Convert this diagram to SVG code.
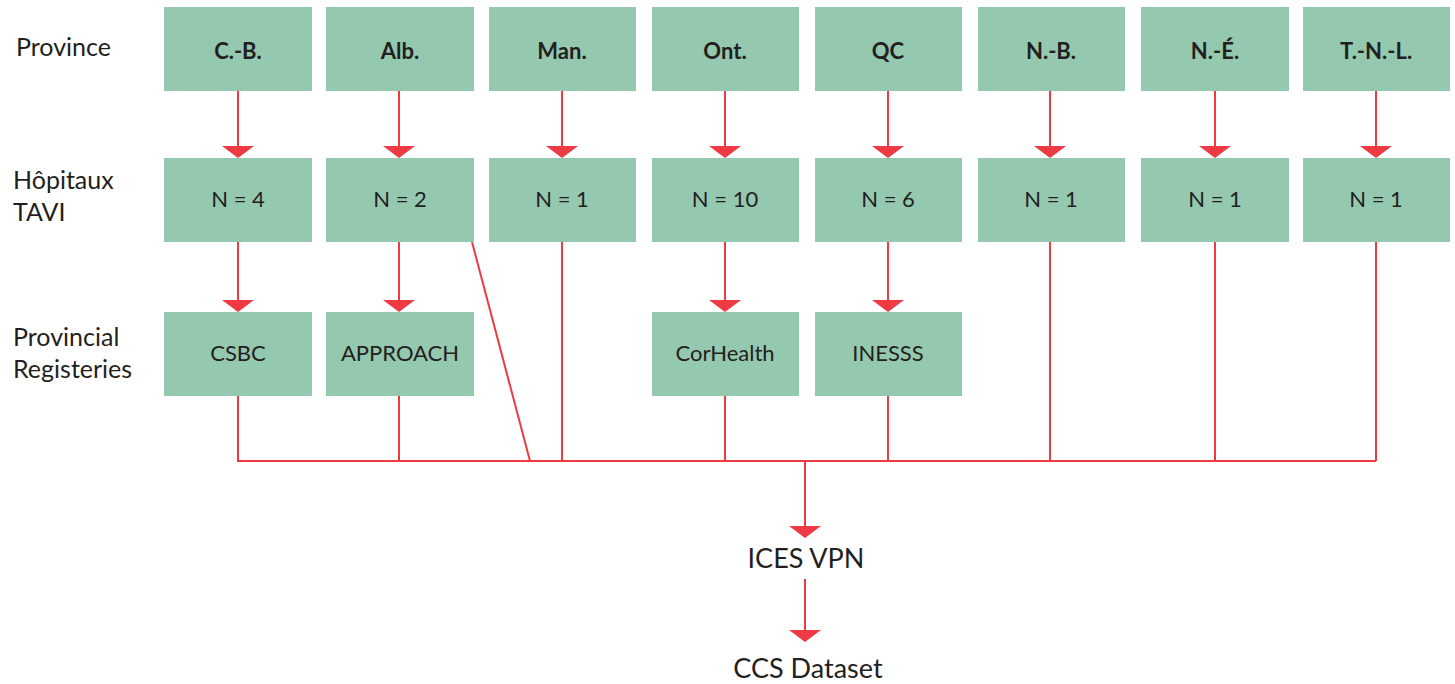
<svg xmlns="http://www.w3.org/2000/svg" width="1455" height="684" viewBox="0 0 1455 684">
<style>
.box{fill:#94C8AF}
.lbl{font-family:Lato,"Liberation Sans",sans-serif;font-size:25px;fill:#231F20}
.b{font-family:Lato,"Liberation Sans",sans-serif;font-size:22px;font-weight:bold;fill:#231F20;text-anchor:middle}
.n{font-family:Lato,"Liberation Sans",sans-serif;font-size:22px;fill:#231F20;text-anchor:middle}
.c{fill:none;stroke:#EE3A43;stroke-width:2}
.ca{fill:none;stroke:#EE3A43;stroke-width:2;marker-end:url(#ah)}
.mid{font-family:Lato,"Liberation Sans",sans-serif;font-size:27px;fill:#231F20;text-anchor:middle}
</style>
<defs>
<marker id="ah" markerUnits="userSpaceOnUse" viewBox="0 -16 12 32" refX="0" refY="0" markerWidth="12" markerHeight="32" orient="auto">
<path d="M0,-16 L12,0 L0,16 z" fill="#EE3A43"/>
</marker>
</defs>
<g id="row-labels">
<text class="lbl" x="16" y="56">Province</text>
<text class="lbl" x="13" y="189">Hôpitaux</text>
<text class="lbl" x="13" y="221">TAVI</text>
<text class="lbl" x="13" y="346">Provincial</text>
<text class="lbl" x="13" y="378">Registeries</text>
</g>
<g id="connectors">
<path class="ca" d="M238,91 V146"/>
<path class="ca" d="M399,91 V146"/>
<path class="ca" d="M562,91 V146"/>
<path class="ca" d="M725,91 V146"/>
<path class="ca" d="M888,91 V146"/>
<path class="ca" d="M1050,91 V146"/>
<path class="ca" d="M1215,91 V146"/>
<path class="ca" d="M1376,91 V146"/>
<path class="ca" d="M238,242 V300"/>
<path class="ca" d="M399,242 V300"/>
<path class="ca" d="M725,242 V300"/>
<path class="ca" d="M888,242 V300"/>
<path class="c" d="M238,396 V461 H1376"/>
<path class="c" d="M399,396 V461"/>
<path class="c" d="M472,242 L530,461"/>
<path class="c" d="M562,242 V461"/>
<path class="c" d="M725,396 V461"/>
<path class="c" d="M888,396 V461"/>
<path class="c" d="M1050,242 V461"/>
<path class="c" d="M1215,242 V461"/>
<path class="c" d="M1376,242 V461"/>
<path class="ca" d="M805,461 V526"/>
<path class="ca" d="M805,579 V630"/>
</g>
<g id="prov-cb"><rect class="box" x="164" y="7" width="148" height="84"/><text class="b" x="238" y="59">C.-B.</text></g>
<g id="prov-alb"><rect class="box" x="326" y="7" width="148" height="84"/><text class="b" x="400" y="59">Alb.</text></g>
<g id="prov-man"><rect class="box" x="489" y="7" width="147" height="84"/><text class="b" x="562" y="59">Man.</text></g>
<g id="prov-ont"><rect class="box" x="652" y="7" width="147" height="84"/><text class="b" x="725" y="59">Ont.</text></g>
<g id="prov-qc"><rect class="box" x="815" y="7" width="147" height="84"/><text class="b" x="888" y="59">QC</text></g>
<g id="prov-nb"><rect class="box" x="978" y="7" width="147" height="84"/><text class="b" x="1051" y="59">N.-B.</text></g>
<g id="prov-ne"><rect class="box" x="1141" y="7" width="148" height="84"/><text class="b" x="1215" y="59">N.-É.</text></g>
<g id="prov-tnl"><rect class="box" x="1303" y="7" width="147" height="84"/><text class="b" x="1376" y="59">T.-N.-L.</text></g>
<g id="hosp-cb"><rect class="box" x="164" y="158" width="148" height="84"/><text class="n" x="238" y="207">N = 4</text></g>
<g id="hosp-alb"><rect class="box" x="326" y="158" width="148" height="84"/><text class="n" x="400" y="207">N = 2</text></g>
<g id="hosp-man"><rect class="box" x="489" y="158" width="147" height="84"/><text class="n" x="562" y="207">N = 1</text></g>
<g id="hosp-ont"><rect class="box" x="652" y="158" width="147" height="84"/><text class="n" x="725" y="207">N = 10</text></g>
<g id="hosp-qc"><rect class="box" x="815" y="158" width="147" height="84"/><text class="n" x="888" y="207">N = 6</text></g>
<g id="hosp-nb"><rect class="box" x="978" y="158" width="147" height="84"/><text class="n" x="1051" y="207">N = 1</text></g>
<g id="hosp-ne"><rect class="box" x="1141" y="158" width="148" height="84"/><text class="n" x="1215" y="207">N = 1</text></g>
<g id="hosp-tnl"><rect class="box" x="1303" y="158" width="147" height="84"/><text class="n" x="1376" y="207">N = 1</text></g>
<g id="reg-csbc"><rect class="box" x="164" y="312" width="148" height="84"/><text class="n" x="238" y="361">CSBC</text></g>
<g id="reg-approach"><rect class="box" x="326" y="312" width="148" height="84"/><text class="n" x="400" y="361">APPROACH</text></g>
<g id="reg-corhealth"><rect class="box" x="652" y="312" width="147" height="84"/><text class="n" x="725" y="361">CorHealth</text></g>
<g id="reg-inesss"><rect class="box" x="815" y="312" width="147" height="84"/><text class="n" x="888" y="361">INESSS</text></g>
<g id="ices-vpn"><text class="mid" x="806" y="568">ICES VPN</text></g>
<g id="ccs-dataset"><text class="mid" x="808" y="678">CCS Dataset</text></g>
</svg>
